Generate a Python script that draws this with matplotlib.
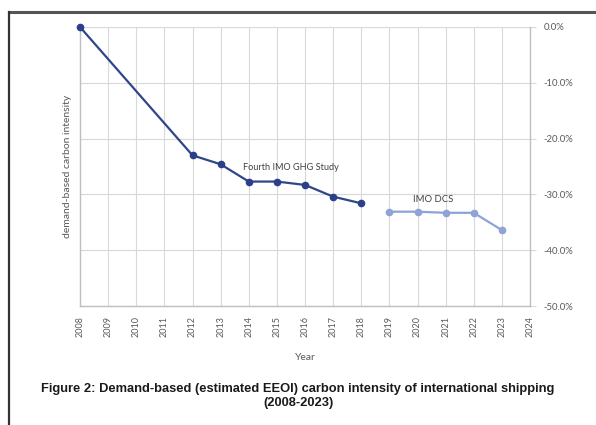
import matplotlib
matplotlib.use("Agg")
import matplotlib.pyplot as plt
from matplotlib.lines import Line2D
from matplotlib.ticker import FuncFormatter

years_study = [2008, 2012, 2013, 2014, 2015, 2016, 2017, 2018]
values_study = [0.0, -23.0, -24.6, -27.7, -27.7, -28.3, -30.4, -31.6]
years_dcs = [2019, 2020, 2021, 2022, 2023]
values_dcs = [-33.1, -33.1, -33.3, -33.3, -36.4]
xticks = list(range(2008, 2025))
yticks = [0, -10, -20, -30, -40, -50]

W, H = 596, 425
fig = plt.figure(figsize=(W / 100, H / 100), dpi=100)
fig.patch.set_facecolor("white")

ax = fig.add_axes([80 / W, 1 - 306 / H, (530 - 80) / W, (306 - 27) / H])
ax.set_xlim(2008, 2024)
ax.set_ylim(-50, 0)

grid_c = "#d9d9d9"
txt_c = "#595959"
fam = ["Lato", "DejaVu Sans"]

ax.set_xticks(xticks)
ax.set_xticklabels([str(y) for y in xticks], rotation=90, fontsize=6.5, color=txt_c, family=fam)
ax.set_yticks(yticks)
ax.yaxis.tick_right()
ax.yaxis.set_major_formatter(FuncFormatter(lambda v, p: f"{v:.1f}%"))
for lab in ax.get_yticklabels():
    lab.set_fontsize(6.8)
    lab.set_color(txt_c)
    lab.set_family(fam)
ax.tick_params(axis="y", length=4, color=grid_c, pad=6)
ax.tick_params(axis="x", length=0, pad=7)
ax.grid(True, color=grid_c, linewidth=0.8)
ax.set_axisbelow(True)
ax.spines["top"].set_visible(False)
for s in ["left", "right", "bottom"]:
    ax.spines[s].set_color("#bfbfbf")
    ax.spines[s].set_linewidth(1.0)

ax.plot(years_study, values_study, color="#2f4689", lw=1.6, marker="o", ms=4.5,
        markerfacecolor="#2b3f8a", markeredgecolor="#2b3f8a", zorder=3, clip_on=False)
ax.plot(years_dcs, values_dcs, color="#8fa3d6", lw=1.6, marker="o", ms=4.5,
        markerfacecolor="#8fa3d6", markeredgecolor="#8fa3d6", zorder=3, clip_on=False)

ax.text(2013.8, -25.2, "Fourth IMO GHG Study", fontsize=6.6, color="#404040", family=fam,
        ha="left", va="center")
ax.text(2020.55, -31.0, "IMO DCS", fontsize=6.8, color="#404040", family=fam,
        ha="center", va="center")

ax.set_ylabel("demand-based carbon intensity", fontsize=7.5, color=txt_c, family=fam, labelpad=6)
ax.yaxis.set_label_position("left")
ax.set_xlabel("Year", fontsize=7.5, color=txt_c, family=fam, labelpad=12)

cap_fam = ["Liberation Sans", "DejaVu Sans"]
fig.text(0.5, 1 - 389 / H, "Figure 2: Demand-based (estimated EEOI) carbon intensity of international shipping",
         ha="center", va="center", fontsize=9.3, fontweight="bold", family=cap_fam, color="#1a1a1a")
fig.text(0.5, 1 - 403 / H, "(2008-2023)",
         ha="center", va="center", fontsize=9.3, fontweight="bold", family=cap_fam, color="#1a1a1a")

# frame lines (top and left)
fig.add_artist(Line2D([9 / W, 1.0], [1 - 12 / H, 1 - 12 / H], color="#555555", lw=2.2,
                      transform=fig.transFigure))
fig.add_artist(Line2D([9 / W, 9 / W], [1 - 12 / H, 0.0], color="#333333", lw=1.6,
                      transform=fig.transFigure))

fig.savefig("out.png", dpi=100, facecolor="white")
